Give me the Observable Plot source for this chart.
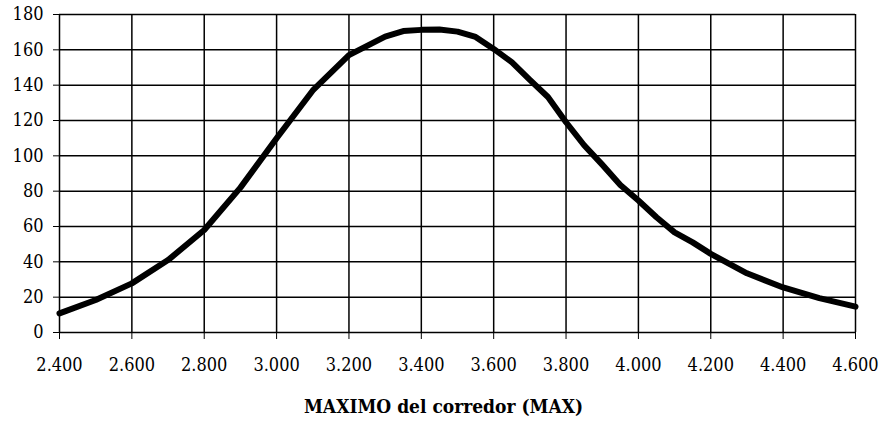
<!DOCTYPE html>
<html>
<head>
<meta charset="utf-8">
<script src="https://cdn.jsdelivr.net/npm/d3@7"></script>
<script src="https://cdn.jsdelivr.net/npm/@observablehq/plot@0.6"></script>
<style>
  html, body { margin: 0; padding: 0; background: #fff; }
</style>
</head>
<body>
<div id="chart"></div>
<script>
const maxValues = [2.4, 2.5, 2.6, 2.7, 2.8, 2.9, 3.0, 3.1, 3.2, 3.3, 3.35, 3.4, 3.45, 3.5, 3.55, 3.6, 3.65, 3.7, 3.75, 3.8, 3.85, 3.9, 3.95, 4.0, 4.05, 4.1, 4.15, 4.2, 4.25, 4.3, 4.4, 4.5, 4.6];
const frequency = [10.8, 18.4, 27.8, 41, 58, 82, 110, 137, 157, 167.5, 170.6, 171.3, 171.5, 170.3, 167.3, 160.5, 153, 143, 133.3, 119, 106, 95, 83.5, 74.7, 65.2, 56.7, 51, 44.5, 39, 33.5, 25.5, 19.5, 14.6];
const xTicks = [2.4, 2.6, 2.8, 3.0, 3.2, 3.4, 3.6, 3.8, 4.0, 4.2, 4.4, 4.6];
const yTicks = [0, 20, 40, 60, 80, 100, 120, 140, 160, 180];
const xTitle = "MAXIMO del corredor (MAX)";

const data = maxValues.map((x, i) => ({x, y: frequency[i]}));
const serif = "DejaVu Serif Condensed";

const chart = Plot.plot({
  width: 883,
  height: 423,
  marginLeft: 59,
  marginRight: 28,
  marginTop: 14,
  marginBottom: 91,
  style: {fontSize: "18px", color: "black", background: "white"},
  x: {domain: [2.4, 4.6]},
  y: {domain: [0, 180]},
  marks: [
    Plot.gridX(xTicks, {stroke: "black", strokeOpacity: 1, strokeWidth: 1.5}),
    Plot.gridY(yTicks, {stroke: "black", strokeOpacity: 1, strokeWidth: 1.5}),
    Plot.axisX(xTicks, {tickSize: 7, tickPadding: 19, tickFormat: d => d.toFixed(3), label: null, stroke: "black", fontSize: 18, fontFamily: serif}),
    Plot.axisY(yTicks, {tickSize: 6, tickPadding: 10, label: null, stroke: "black", fontSize: 18, fontFamily: serif}),
    Plot.line(data, {x: "x", y: "y", stroke: "black", strokeWidth: 6, strokeLinejoin: "round"}),
    Plot.text([xTitle], {frameAnchor: "bottom", dy: 80, dx: -14, fontWeight: "bold", fontSize: 19, fontFamily: serif, fill: "black"})
  ]
});
document.getElementById("chart").append(chart);
</script>
</body>
</html>
